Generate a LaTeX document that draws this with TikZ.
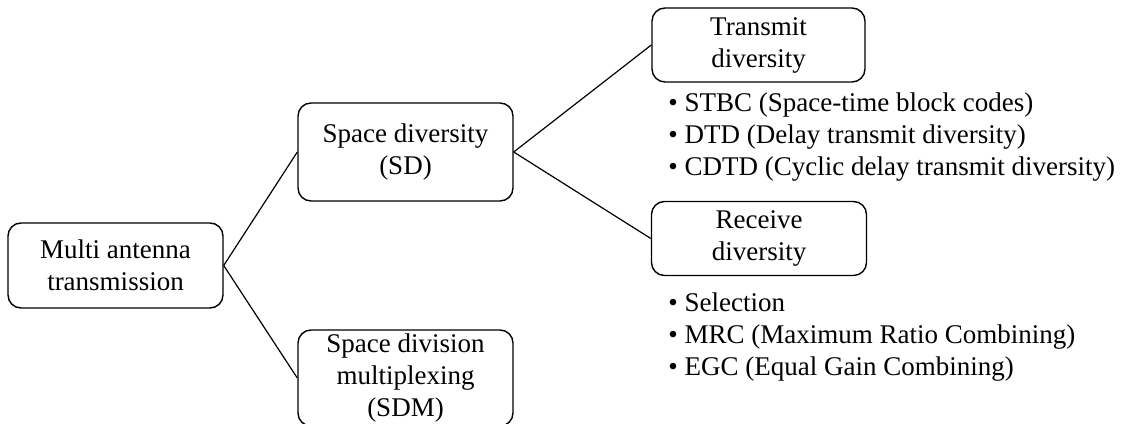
\documentclass[tikz,border=0pt]{standalone}
\usepackage{fontspec}
\setmainfont{Liberation Serif}
\usepackage{tikz}
\usetikzlibrary{shapes.geometric, arrows}
\tikzstyle{block} = [rectangle, rounded corners=6.5pt, minimum width=107.5pt, text centered, align=center, draw=black, line width=0.7pt, inner sep=1pt, font=\fontsize{13.5}{16}\selectfont]
\tikzstyle{bullets} = [rectangle, align=left, inner sep=0pt, anchor=base west, font=\fontsize{13.5}{16}\selectfont]
\tikzstyle{link} = [line width=0.6pt]

\begin{document}
\begin{tikzpicture}[x=0.5pt, y=-0.5pt, node distance=145pt]
			\useasboundingbox (0,0) rectangle (1123,423);
			\clip (0,0) rectangle (1123,423);
			\node (multi) [block, minimum height=42.5pt] at (115.5,265.5) {Multi antenna\\transmission};
			\node (sd) [block, minimum height=49pt, right of=multi, yshift=56.75pt] {Space diversity\\(SD)};
			\node (sdm) [block, minimum height=48pt, right of=multi, yshift=-56.25pt] {Space division\\multiplexing\\(SDM)};
			\node (td) [block, minimum width=106.5pt, minimum height=37pt, right of=sd, xshift=31.5pt, yshift=53.5pt] {Transmit\\diversity};
			\node (rd) [block, minimum height=37pt, right of=sd, xshift=31.75pt, yshift=-43.25pt] {Receive\\diversity};
			% base = last line of each list
			\node (tdlist) [bullets] at (668,175) {• STBC (Space-time block codes)\\• DTD (Delay transmit diversity)\\• CDTD (Cyclic delay transmit diversity)};
			\node (rdlist) [bullets] at (668,375) {• Selection\\• MRC (Maximum Ratio Combining)\\• EGC (Equal Gain Combining)};

			\draw [link] (multi.east) -- (sd.west);
			\draw [link] (multi.east) -- (sdm.west);
			\draw [link] (sd.east) -- (td.west);
			\draw [link] (sd.east) -- (rd.west);
		\end{tikzpicture}
\end{document}
